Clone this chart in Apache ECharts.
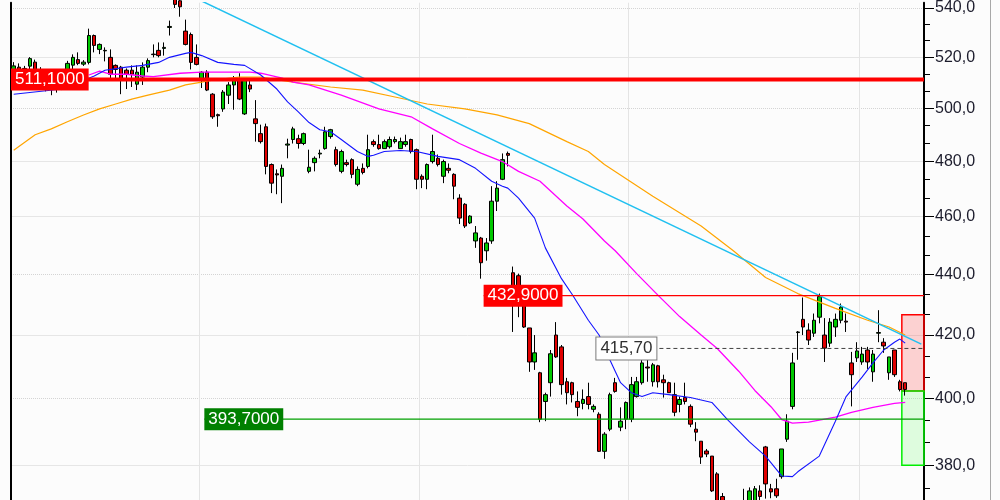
<!DOCTYPE html>
<html><head><meta charset="utf-8">
<script src="https://cdn.jsdelivr.net/npm/echarts@6/dist/echarts.min.js"></script>
<style>html,body{margin:0;padding:0;background:#fcfcfc}#c{width:1000px;height:500px}</style>
</head><body><div id="c"></div>
<script>
// ---- data (prices) ----
const opens = [513.5,516.0,513.0,516.4,518.0,515.0,511.5,509.0,510.5,508.5,
512.0,516.8,519.0,517.2,517.9,528.7,523.1,522.5,519.9,516.7,
516.0,514.8,514.8,509.3,512.1,516.0,521.2,522.7,523.5,532.0,
545.0,543.0,530.5,529.1,519.9,510.8,514.0,505.4,497.5,499.7,
505.0,509.0,511.3,497.8,509.0,495.9,490.3,492.9,478.8,475.4,
474.5,486.0,488.1,488.4,486.6,476.3,479.5,482.7,484.7,489.2,
484.3,476.3,479.5,480.6,471.6,477.4,478.1,487.3,486.2,484.7,
485.4,487.3,484.7,486.2,488.1,484.3,474.5,473.4,479.9,481.1,
474.5,477.4,475.2,466.6,464.4,457.8,451.5,452.5,448.1,451.5,
465.5,473.4,482.9,440.6,439.6,429.7,422.3,411.4,408.0,399.1,
404.9,420.0,416.2,405.2,404.9,399.1,398.5,400.6,396.7,395.2,
384.1,390.7,404.9,391.3,393.7,393.7,400.6,404.9,409.8,405.2,
410.2,405.8,404.9,401.2,398.2,400.3,397.6,390.7,387.1,384.2,
382.7,377.5,371.0,366.0,362.0,364.0,362.5,366.0,368.0,372.6,
385.4,373.2,373.2,376.7,387.7,397.6,420.8,425.1,421.6,420.6,
425.8,420.0,417.4,422.6,424.8,424.5,411.1,412.7,411.4,415.2,
408.3,420.6,417.7,408.0,415.2,405.2,404.9];
const closes = [516.5,513.0,515.5,519.4,515.0,511.5,509.0,510.5,508.5,511.5,
517.5,519.9,517.5,518.0,528.7,524.7,525.1,522.7,513.2,515.1,
511.2,513.2,513.2,514.0,516.0,518.6,521.0,520.6,523.9,532.4,
541.5,540.5,525.1,517.9,517.1,514.0,507.0,496.7,497.1,506.2,
509.0,511.3,503.5,511.3,507.4,494.1,487.3,478.1,472.0,475.0,
477.4,486.4,492.1,486.6,490.3,477.8,481.1,483.0,491.0,491.8,
478.8,483.6,478.8,475.2,477.0,475.9,484.3,486.2,484.7,487.3,
488.1,488.1,487.3,487.3,483.6,473.4,473.4,478.8,483.6,478.8,
479.9,476.7,470.9,459.5,456.7,460.2,454.3,444.0,450.8,465.5,
470.2,480.6,482.2,431.3,429.7,422.6,411.4,414.3,393.7,401.2,
414.0,413.0,404.3,401.8,401.2,397.3,399.7,398.2,397.6,384.1,
389.2,401.2,402.2,393.1,398.8,404.3,405.2,411.1,409.5,410.5,
405.2,404.9,401.8,395.8,399.7,399.1,392.2,389.8,382.4,383.3,
372.6,368.5,366.0,362.0,364.0,361.5,365.5,372.6,373.2,371.0,
374.6,372.3,371.2,384.8,393.1,411.1,421.0,422.6,418.4,424.8,
432.6,415.8,424.2,425.1,429.1,424.2,407.4,414.9,413.9,411.4,
413.9,420.8,416.5,413.0,407.4,402.8,402.8];
const lows = [511.5,511.0,510.5,514.0,513.5,509.5,506.5,505.0,506.0,507.0,
511.0,515.0,516.8,516.5,517.1,521.9,521.2,518.3,511.2,511.2,
505.4,507.4,508.2,507.0,509.0,514.0,519.9,519.9,520.6,528.7,
540.0,536.4,524.7,515.1,516.7,507.8,506.6,495.9,492.9,498.6,
501.6,499.4,503.1,497.4,506.2,487.3,486.6,475.2,468.4,468.0,
464.8,481.1,486.6,484.7,486.0,475.6,476.3,481.1,484.3,488.4,
478.1,475.6,478.1,473.8,470.9,475.2,477.4,485.4,484.3,484.7,
484.7,486.6,484.7,485.4,482.9,469.8,470.2,469.8,479.2,478.1,
472.0,475.6,466.2,457.4,456.0,457.4,449.1,438.6,444.7,450.5,
462.0,473.1,478.1,421.0,425.8,422.3,408.3,408.9,392.8,393.1,
400.6,412.7,401.2,398.2,398.8,394.6,396.7,396.7,395.8,383.9,
381.9,390.1,401.8,390.1,390.7,392.8,400.3,404.3,405.2,403.7,
403.4,400.3,401.8,394.6,395.8,398.2,391.3,387.1,380.4,382.4,
372.3,366.0,364.0,360.0,359.0,358.5,360.0,364.0,366.0,366.0,
370.4,370.5,370.6,376.1,386.9,396.7,412.1,420.0,416.8,419.4,
423.8,411.4,416.2,419.4,423.8,421.0,397.6,411.4,410.5,409.2,
405.2,417.7,414.3,405.8,406.7,402.2,400.9];
const highs = [518.0,517.5,516.5,520.0,519.0,516.0,513.0,512.5,512.5,513.0,
518.5,521.1,521.9,518.8,531.5,529.1,525.5,523.9,523.1,517.1,
516.5,515.5,516.7,516.7,517.9,519.5,525.1,525.9,525.9,534.8,
548.0,546.0,535.2,529.9,525.1,514.4,514.8,505.8,497.9,507.0,
510.1,512.5,513.6,511.3,511.3,503.1,493.7,494.1,479.2,477.0,
478.8,488.4,492.9,489.9,490.7,484.3,481.8,484.3,492.9,492.1,
485.4,484.3,480.6,481.1,478.1,479.2,489.9,488.1,489.9,488.1,
489.2,489.2,488.8,489.9,488.4,484.7,475.2,479.2,489.9,482.5,
480.6,479.2,475.6,468.0,464.8,460.5,456.7,452.9,452.5,470.9,
472.7,482.9,483.6,442.7,440.3,431.3,422.3,420.0,408.3,401.8,
415.2,424.2,416.8,406.4,405.2,402.2,402.8,404.9,398.2,395.8,
389.8,401.8,406.4,397.3,399.1,406.7,406.7,412.1,413.0,411.1,
410.5,407.4,405.2,404.9,400.6,404.9,398.2,392.8,387.1,384.8,
382.7,378.0,372.0,368.0,366.5,367.0,373.2,373.6,374.0,374.2,
385.7,374.6,376.1,384.8,395.2,414.3,421.3,432.3,423.8,427.0,
433.6,425.5,425.5,427.0,430.3,427.0,414.6,417.7,416.2,416.2,
415.2,428.1,419.0,413.0,415.2,405.8,404.9];

// moving averages: [candle index, price]
const maBlue = [[0,505.4],[9,507.4],[15,512.5],[17,514.8],[21,516.0],[24,516.7],[27,517.9],[29,519.9],[32,521.5],[33,521.9],[35,520.6],[38,517.9],[41,517.1],[43,516.7],[46,512.9],[49,507.4],[51,502.4],[53,498.6],[55,494.5],[57,491.8],[59,491.0],[61,488.1],[64,483.6],[66,481.8],[67,482.2],[69,483.6],[72,484.0],[75,483.6],[79,481.8],[83,480.6],[86,477.4],[89,472.7],[91,470.9],[92,470.2],[94,466.6],[97,459.5],[99,449.1],[102,438.6],[104,433.3],[107,424.8],[109,420.0],[111,412.1],[113,404.9],[115,401.8],[117,400.6],[119,401.8],[122,401.2],[126,400.3],[130,398.8],[133,393.4],[137,386.9],[140,382.7],[143,376.9],[145,376.7],[146,378.1],[150,382.7],[153,393.1],[155,400.6],[158,406.7],[160,411.1],[162,415.2],[164,417.7],[165,418.7],[166,417.4]];
const maMagenta = [[14,512.9],[16,514.4],[18,513.2],[21,513.2],[24,512.5],[26,512.3],[31,513.6],[35,514.0],[44,514.0],[46,513.6],[50,511.7],[52,510.1],[55,509.0],[61,505.0],[68,499.7],[74,496.7],[78,492.1],[83,486.6],[87,483.0],[91,479.9],[94,476.3],[98,472.7],[103,463.8],[106,459.2],[110,451.5],[112,448.1],[116,440.3],[120,433.0],[124,426.0],[128,420.0],[131,415.7],[135,408.5],[138,402.5],[141,397.5],[143,393.6],[145,392.5],[148,392.8],[150,393.4],[153,394.3],[156,395.8],[160,397.3],[164,398.5],[166,398.8]];
const maOrange = [[0,484.1],[4,489.9],[7,492.1],[10,494.8],[13,497.4],[16,499.7],[19,501.6],[22,503.5],[25,505.0],[29,507.0],[32,509.0],[35,510.1],[37,510.9],[42,512.1],[46,512.1],[52,510.1],[59,508.2],[65,507.0],[71,504.3],[77,501.6],[84,499.7],[90,497.4],[96,494.1],[103,487.3],[107,483.6],[110,478.8],[119,467.3],[128,456.7],[134,448.1],[140,439.0],[146,433.6],[153,428.7],[159,424.8],[163,422.6],[166,420.0]];
const trendLine = [[35,542.9],[169,417.1]];

// horizontal levels
const levelPrices = [511.1, 432.9, 393.7, 415.7];
const levelStarts = [0, 88, 36, 109];
const levelLabels = ['511,1000', '432,9000', '393,7000', '415,70'];

// target zones
const targetStart = 165;
const targetUpper = [426.6, 402.3];
const targetLower = [402.3, 380.0];

// axis
const yTicksMajor = [540,520,500,480,460,440,420,400,380];
const yTicksMinor = [373.3,386.7,393.3,406.7,413.3,426.7,433.3,446.7,453.3,466.7,473.3,486.7,493.3,506.7,513.3,526.7,533.3];
const gridSolid = [520,480,460,420,380];
const gridDotted = [540,500,440,400];
const periodStarts = [35,76,115,158];
const categoryCount = 170;
const yRange = [370.0, 542.2];

// ---- styles ----
const levelStyles = [
  {line:'#ff0000', width:4, dash:null, bg:'#ff0000', fg:'#ffffff', border:null},
  {line:'#ff0000', width:1.2, dash:null, bg:'#ff0000', fg:'#ffffff', border:null},
  {line:'#00a000', width:1.3, dash:null, bg:'#008000', fg:'#ffffff', border:null},
  {line:'#404040', width:1, dash:[4,3], bg:'#ffffff', fg:'#303030', border:'#7a7a7a'}
];
const zoneStyles = [
  {fill:'rgba(255,0,0,0.17)', stroke:'#ff0000'},
  {fill:'rgba(120,255,120,0.22)', stroke:'#00ee00'}
];

const L = v => Math.log(v);
const fmt1 = v => v.toFixed(1).replace('.', ',');
const Lmin = L(yRange[0]), Lmax = L(yRange[1]);
const cats = Array.from({length: categoryCount}, (_, i) => String(i));
const candleData = opens.map((o, i) => [o, closes[i], lows[i], highs[i]].map(L));
const toLn = arr => arr.map(([k, p]) => [k, L(p)]);

function hiddenY(extra) {
  return Object.assign({type:'value', position:'right', min:Lmin, max:Lmax,
    axisLine:{show:false}, axisTick:{show:false}, axisLabel:{show:false}, splitLine:{show:false}}, extra);
}

const chart = echarts.init(document.getElementById('c'), null, {renderer:'canvas'});
chart.setOption({
  animation:false,
  backgroundColor:'#fcfcfc',
  grid:{left:11, right:76, top:0, bottom:0},
  xAxis:{type:'category', data:cats, boundaryGap:true,
    axisLine:{show:false}, axisTick:{show:false}, axisLabel:{show:false},
    splitLine:{show:true, interval:(i)=>periodStarts.includes(i), lineStyle:{color:'#e4e4e4', width:1}}},
  yAxis:[
    {type:'value', position:'right', min:Lmin, max:Lmax,
      axisLine:{show:true, onZero:false, lineStyle:{color:'#000', width:2}},
      axisTick:{show:true, length:10, customValues:yTicksMajor.map(L), lineStyle:{color:'#000', width:1}},
      axisLabel:{show:true, customValues:yTicksMajor.map(L), formatter:v=>fmt1(Math.exp(v)), margin:11,
        color:'#1c1c2c', fontSize:16, fontFamily:'Liberation Sans'},
      splitLine:{show:false}},
    hiddenY({axisTick:{show:true, length:6, customValues:yTicksMinor.map(L), lineStyle:{color:'#000', width:1}}}),
    hiddenY({position:'left', axisLine:{show:true, onZero:false, lineStyle:{color:'#000', width:2}}}),
    hiddenY({axisTick:{show:false, customValues:gridSolid.map(L)}, splitLine:{show:true, lineStyle:{color:'#e6e6e6', width:1}}}),
    hiddenY({axisTick:{show:false, customValues:gridDotted.map(L)}, splitLine:{show:true, lineStyle:{color:'#d4d4d4', width:1, type:'dotted'}}})
  ],
  graphic:[{type:'line', shape:{x1:990.5, y1:0, x2:990.5, y2:500}, style:{stroke:'#a8a8a8', lineWidth:1}, silent:true}],
  series:[
    {type:'custom', name:'zones', z:1, silent:true,
      data:[[targetStart, L(targetUpper[0]), L(targetUpper[1]), 0], [targetStart, L(targetLower[0]), L(targetLower[1]), 1]],
      renderItem(params, api){
        const a = api.coord([api.value(0), api.value(1)]);
        const b = api.coord([api.value(0), api.value(2)]);
        const cs = params.coordSys;
        const st = zoneStyles[api.value(3)];
        const x0 = a[0] + 2;
        return {type:'rect', shape:{x:x0, y:a[1], width:cs.x + cs.width - x0, height:b[1]-a[1]},
          style:{fill:st.fill, stroke:st.stroke, lineWidth:1.5}};
      }},
    {type:'candlestick', name:'price', z:3, barWidth:4, clip:true, data:candleData,
      itemStyle:{color:'#00c800', color0:'#e00000', borderColor:'#000', borderColor0:'#000', borderWidth:1}},
    {type:'line', name:'maOrange', z:4, data:toLn(maOrange), symbol:'none', clip:true, silent:true,
      lineStyle:{color:'#ffa500', width:1.2}},
    {type:'line', name:'maMagenta', z:4, data:toLn(maMagenta), symbol:'none', clip:true, silent:true,
      lineStyle:{color:'#ff00ff', width:1.3}},
    {type:'line', name:'maBlue', z:4, data:toLn(maBlue), symbol:'none', clip:true, silent:true,
      lineStyle:{color:'#1414ff', width:1.1}},
    {type:'line', name:'trend', z:4, data:toLn(trendLine), symbol:'none', clip:true, silent:true,
      lineStyle:{color:'#20c0f0', width:1.5}},
    {type:'custom', name:'levels', z:6, silent:true,
      data:levelPrices.map((p, i) => [levelStarts[i], L(p), i]),
      renderItem(params, api){
        const i = api.value(2);
        const pt = api.coord([api.value(0), api.value(1)]);
        const half = api.size([1, 0])[0] / 2;
        const x0 = pt[0] - half;
        const cs = params.coordSys;
        const st = levelStyles[i];
        return {type:'group', children:[
          {type:'line', shape:{x1:x0, y1:pt[1], x2:cs.x + cs.width, y2:pt[1]},
            style:{stroke:st.line, lineWidth:st.width, lineDash:st.dash}},
          {type:'text', x:x0, y:pt[1], style:{text:levelLabels[i], fill:st.fg, backgroundColor:st.bg,
            borderColor:st.border || 'transparent', borderWidth:st.border ? 1 : 0, padding:[2,4],
            fontSize:17, lineHeight:18, fontFamily:'Liberation Sans', verticalAlign:'middle', align:'left'}}
        ]};
      }}
  ]
});
</script></body></html>
